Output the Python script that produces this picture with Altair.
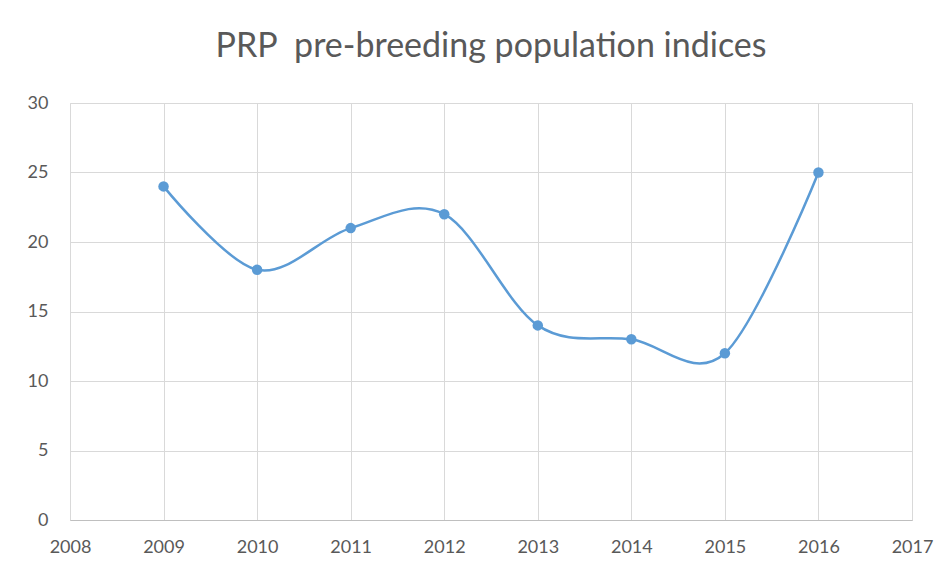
import altair as alt
import pandas as pd

years = [2009, 2010, 2011, 2012, 2013, 2014, 2015, 2016]
values = [24, 18, 21, 22, 14, 13, 12, 25]
x_ticks = [2008, 2009, 2010, 2011, 2012, 2013, 2014, 2015, 2016, 2017]
y_ticks = [0, 5, 10, 15, 20, 25, 30]

df = pd.DataFrame({"year": years, "value": values})

color = "#5B9BD5"
font = "Lato"
text_color = "#595959"
grid_color = "#d9d9d9"

x = alt.X("year:Q", scale=alt.Scale(domain=[2008, 2017], nice=False, zero=False),
          axis=alt.Axis(values=x_ticks, format="d", title=None, ticks=False,
                        labelFontSize=18, labelColor=text_color, labelFont=font,
                        labelPadding=18, domainColor="#bfbfbf",
                        grid=True, gridColor=grid_color, labelFlush=False))
y = alt.Y("value:Q", scale=alt.Scale(domain=[0, 30], nice=False),
          axis=alt.Axis(values=y_ticks, title=None, ticks=False, domain=False,
                        labelFontSize=18, labelColor=text_color, labelFont=font,
                        labelPadding=22, grid=True, gridColor=grid_color))

base = alt.Chart(df)
line = base.mark_line(interpolate="cardinal", color=color, strokeWidth=2.5).encode(x=x, y=y)
pts = base.mark_point(filled=True, color=color, size=110, opacity=1).encode(x=x, y=y)

chart = (line + pts).properties(
    width=842, height=417,
    title=alt.TitleParams("PRP\u00a0 pre-breeding population indices", fontSize=34,
                          font=font, fontWeight="normal", color=text_color,
                          anchor="middle", offset=30),
    padding={"left": 62, "top": 95, "right": 31, "bottom": 45},
    autosize=alt.AutoSizeParams(type="none"),
).configure_view(stroke=None).configure(background="white")

chart.save("out.html", embed_options={"renderer": "svg", "actions": False})
